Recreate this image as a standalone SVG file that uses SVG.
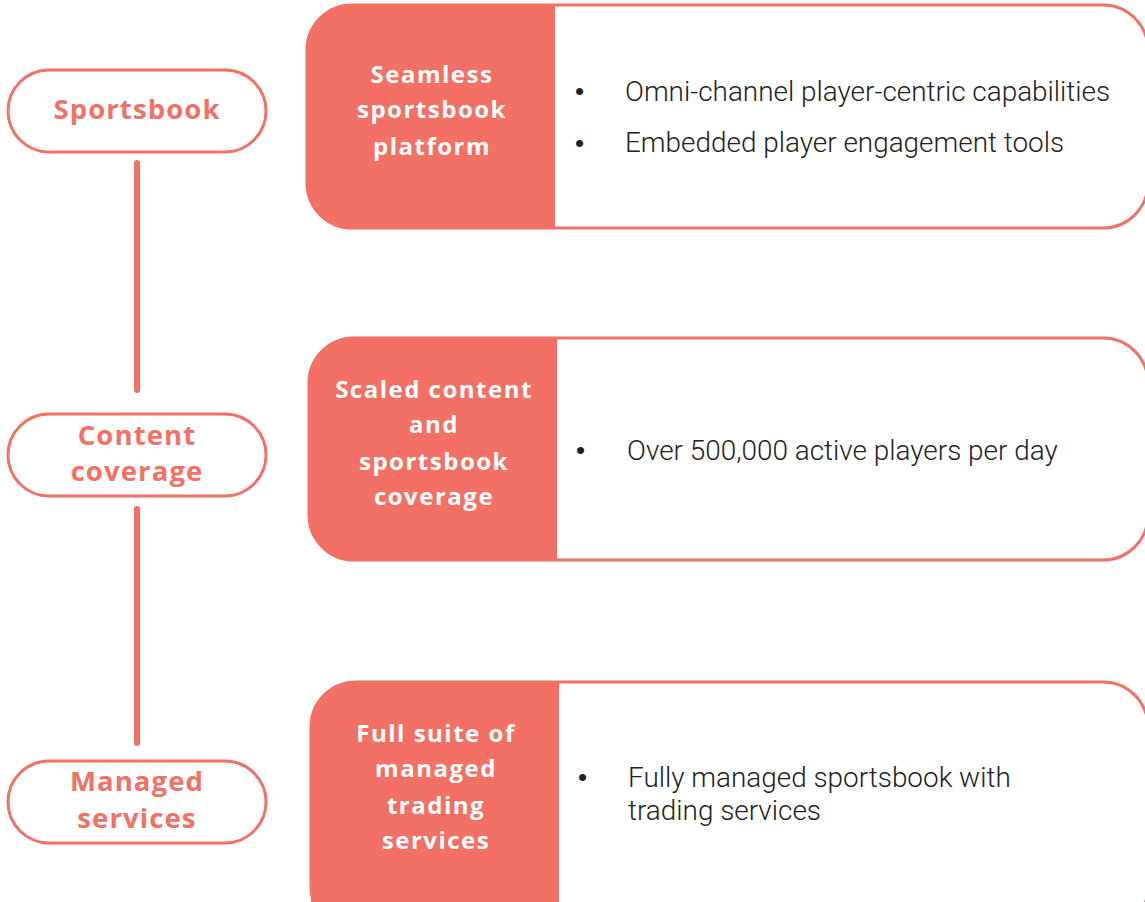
<svg xmlns="http://www.w3.org/2000/svg" width="1145" height="902" viewBox="0 0 1145 902">
<style>
.pill{fill:#fff;stroke:#F37065;stroke-width:3}
.pt{font-family:"Open Sans","Lato",sans-serif;font-weight:700;font-size:27.5px;letter-spacing:1.1px;fill:#F37065;text-anchor:middle}
.out{fill:#fff;stroke:#F37065;stroke-width:3}
.fill{fill:#F37065}
.ht{font-family:"Open Sans","Lato",sans-serif;font-weight:700;font-size:24px;letter-spacing:1.5px;fill:#fff;text-anchor:middle}
.bt{font-family:Roboto,"Liberation Sans",sans-serif;font-weight:300;font-size:27.9px;fill:#222}
.bu{font-family:"Liberation Sans",sans-serif;font-size:26px;fill:#222}
.ln{stroke:#F37065;stroke-width:6;stroke-linecap:round;fill:none}
</style>
<g id="connectors">
<line class="ln" x1="137" y1="163" x2="137" y2="390"/>
<line class="ln" x1="137" y1="509" x2="137" y2="743"/>
</g>
<g id="pill-sportsbook">
<rect class="pill" x="8" y="70" width="258" height="82" rx="41"/>
<text class="pt" x="137" y="119">Sportsbook</text>
</g>
<g id="pill-content">
<rect class="pill" x="8" y="414" width="258" height="82" rx="41"/>
<text class="pt" x="137" y="445">Content</text>
<text class="pt" x="137" y="481">coverage</text>
</g>
<g id="pill-managed">
<rect class="pill" x="8" y="761" width="258" height="82" rx="41"/>
<text class="pt" x="137" y="791">Managed</text>
<text class="pt" x="137" y="828">services</text>
</g>
<g id="card-1">
<rect class="out" x="307" y="5" width="841" height="223" rx="45"/>
<path class="fill" d="M352 5H555V228H352A45 45 0 0 1 307 183V50A45 45 0 0 1 352 5Z"/>
<text class="ht" x="432" y="83">Seamless</text>
<text class="ht" x="432" y="118">sportsbook</text>
<text class="ht" x="432" y="155">platform</text>
<text class="bu" x="575" y="100">•</text>
<text class="bt" x="625" y="101">Omni-channel player-centric capabilities</text>
<text class="bu" x="575" y="152">•</text>
<text class="bt" x="625" y="152">Embedded player engagement tools</text>
</g>
<g id="card-2">
<rect class="out" x="309" y="338" width="839" height="222" rx="45"/>
<path class="fill" d="M354 338H557V560H354A45 45 0 0 1 309 515V383A45 45 0 0 1 354 338Z"/>
<text class="ht" x="434" y="398">Scaled content</text>
<text class="ht" x="434" y="433">and</text>
<text class="ht" x="434" y="470">sportsbook</text>
<text class="ht" x="434" y="505">coverage</text>
<text class="bu" x="576" y="459">•</text>
<text class="bt" x="627" y="460">Over 500,000 active players per day</text>
</g>
<g id="card-3">
<rect class="out" x="311" y="682" width="837" height="250" rx="45"/>
<path class="fill" d="M356 682H559V932H311V727A45 45 0 0 1 356 682Z"/>
<text class="ht" x="436" y="742">Full suite of</text>
<text class="ht" x="436" y="777">managed</text>
<text class="ht" x="436" y="814">trading</text>
<text class="ht" x="436" y="849">services</text>
<text class="bu" x="578" y="786">•</text>
<text class="bt" x="628" y="787">Fully managed sportsbook with</text>
<text class="bt" x="628" y="820">trading services</text>
</g>
</svg>
